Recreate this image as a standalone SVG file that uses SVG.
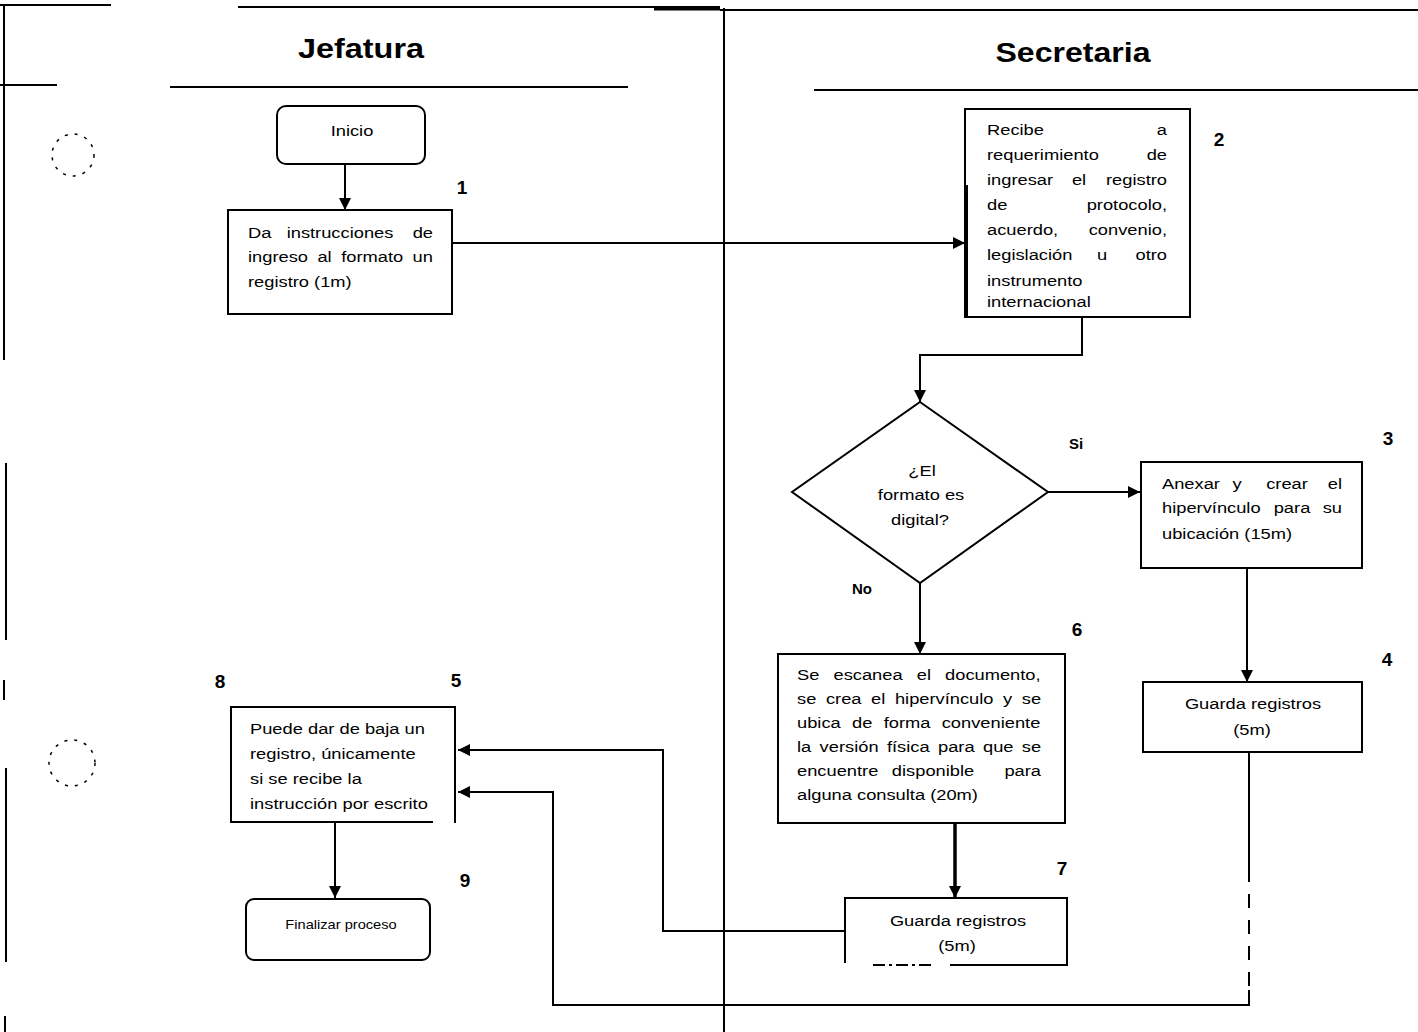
<svg xmlns="http://www.w3.org/2000/svg" width="1418" height="1032" viewBox="0 0 1418 1032">
  <defs>
    <marker id="arr" viewBox="0 0 10 10" refX="10" refY="5" markerWidth="12" markerHeight="12" markerUnits="userSpaceOnUse" orient="auto">
      <path d="M0,0 L10,5 L0,10 z" fill="#000"/>
    </marker>
    <style>
      text { font-family: "Liberation Sans", Arial, sans-serif; fill: #000; }
      .lane { font-size: 27px; font-weight: bold; text-anchor: middle; }
      /* body text: 15px, drawn with a 1.22 horizontal stretch via transform */
      .t { font-size: 15px; }
      .tm { font-size: 15px; text-anchor: middle; }
      .te { font-size: 15px; text-anchor: end; }
      .small { font-size: 12px; text-anchor: middle; }
      .num { font-size: 19px; font-weight: bold; text-anchor: middle; }
      .lbl { font-size: 15px; font-weight: bold; text-anchor: middle; }
      .box { fill: #fff; stroke: #000; stroke-width: 2; }
      .edge { stroke: #000; stroke-width: 2; fill: none; }
      .rule { stroke: #000; stroke-width: 2; fill: none; }
      .conn { stroke: #000; stroke-width: 2; fill: none; }
      .mark { stroke: #000; stroke-width: 1.5; fill: none; stroke-dasharray: 3 7; }
    </style>
  </defs>

  <rect width="1418" height="1032" fill="#fff"/>

  <!-- lane frame -->
  <g id="lanes">
    <line class="rule" x1="0" y1="5" x2="111" y2="5"/>
    <line class="rule" x1="4" y1="5" x2="4" y2="360"/>
    <line class="rule" x1="0" y1="85" x2="57" y2="85"/>
    <line class="rule" x1="6" y1="463" x2="6" y2="640"/>
    <line class="rule" x1="6" y1="768" x2="6" y2="962"/>
    <line class="rule" x1="4" y1="680" x2="4" y2="700"/>
    <line class="rule" x1="5" y1="1016" x2="5" y2="1032"/>
    <line class="rule" x1="238" y1="7" x2="720" y2="7"/>
    <line x1="654" y1="9" x2="720" y2="9" stroke="#000" stroke-width="3"/>
    <line class="rule" x1="720" y1="10" x2="1418" y2="10"/>
    <line class="rule" x1="724" y1="8" x2="724" y2="1032"/>
    <line class="rule" x1="170" y1="87" x2="628" y2="87"/>
    <line class="rule" x1="814" y1="90" x2="1418" y2="90"/>
    <text class="lane" x="361" y="58" textLength="126" lengthAdjust="spacingAndGlyphs">Jefatura</text>
    <text class="lane" x="1073" y="62" textLength="155" lengthAdjust="spacingAndGlyphs">Secretaria</text>
    <circle class="mark" cx="73" cy="155" r="21"/>
    <circle class="mark" cx="72" cy="763" r="23"/>
  </g>

  <!-- connectors -->
  <g id="connectors">
    <line class="conn" x1="345" y1="164" x2="345" y2="210" marker-end="url(#arr)"/>
    <line class="conn" x1="452" y1="243" x2="965" y2="243" marker-end="url(#arr)"/>
    <polyline class="conn" points="1082,317 1082,355 920,355 920,402" marker-end="url(#arr)"/>
    <line class="conn" x1="1048" y1="492" x2="1140" y2="492" marker-end="url(#arr)"/>
    <line class="conn" x1="1247" y1="568" x2="1247" y2="682" marker-end="url(#arr)"/>
    <line class="conn" x1="920" y1="583" x2="920" y2="654" marker-end="url(#arr)"/>
    <line x1="955" y1="823" x2="955" y2="898" stroke="#000" stroke-width="3.5" marker-end="url(#arr)"/>
    <polyline class="conn" points="844,931 663,931 663,750 458,750" marker-end="url(#arr)"/>
    <line class="conn" x1="1249" y1="752" x2="1249" y2="868"/>
    <line class="conn" x1="1249" y1="868" x2="1249" y2="990" stroke-dasharray="14 12"/>
    <polyline class="conn" points="1249,990 1249,1005 553,1005 553,792 458,792" marker-end="url(#arr)"/>
    <line class="conn" x1="335" y1="822" x2="335" y2="898" marker-end="url(#arr)"/>
  </g>

  <!-- start -->
  <g id="n-inicio">
    <rect class="box" x="277" y="106" width="148" height="58" rx="9"/>
    <text class="tm" transform="translate(352 136) scale(1.22 1)">Inicio</text>
  </g>

  <!-- step 1 -->
  <g id="n1">
    <rect class="box" x="228" y="210" width="224" height="104"/>
    <text class="t" transform="translate(248 238) scale(1.22 1)">Da</text>
    <text class="tm" transform="translate(340 238) scale(1.22 1)">instrucciones</text>
    <text class="te" transform="translate(433 238) scale(1.22 1)">de</text>
    <text class="t" transform="translate(248 262) scale(1.22 1)" word-spacing="3.6">ingreso al formato un</text>
    <text class="t" transform="translate(248 287) scale(1.22 1)">registro (1m)</text>
    <text class="num" x="462" y="194">1</text>
  </g>

  <!-- step 2 -->
  <g id="n2">
    <rect class="box" x="965" y="109" width="225" height="208"/>
    <line x1="966" y1="185" x2="966" y2="317" stroke="#000" stroke-width="4"/>
    <text class="t" transform="translate(987 135) scale(1.22 1)">Recibe</text>
    <text class="te" transform="translate(1167 135) scale(1.22 1)">a</text>
    <text class="t" transform="translate(987 160) scale(1.22 1)">requerimiento</text>
    <text class="te" transform="translate(1167 160) scale(1.22 1)">de</text>
    <text class="t" transform="translate(987 185) scale(1.22 1)">ingresar</text>
    <text class="tm" transform="translate(1079 185) scale(1.22 1)">el</text>
    <text class="te" transform="translate(1167 185) scale(1.22 1)">registro</text>
    <text class="t" transform="translate(987 210) scale(1.22 1)">de</text>
    <text class="te" transform="translate(1167 210) scale(1.22 1)">protocolo,</text>
    <text class="t" transform="translate(987 235) scale(1.22 1)">acuerdo,</text>
    <text class="te" transform="translate(1167 235) scale(1.22 1)">convenio,</text>
    <text class="t" transform="translate(987 260) scale(1.22 1)">legislación</text>
    <text class="tm" transform="translate(1102 260) scale(1.22 1)">u</text>
    <text class="te" transform="translate(1167 260) scale(1.22 1)">otro</text>
    <text class="t" transform="translate(987 286) scale(1.22 1)">instrumento</text>
    <text class="t" transform="translate(987 307) scale(1.22 1)" font-size="14">internacional</text>
    <text class="num" x="1219" y="146">2</text>
  </g>

  <!-- decision -->
  <g id="n-decision">
    <polygon class="box" points="920,402 1048,492 920,583 792,492"/>
    <text class="tm" transform="translate(922 476) scale(1.22 1)">¿El</text>
    <text class="tm" transform="translate(921 500) scale(1.22 1)">formato es</text>
    <text class="tm" transform="translate(920 525) scale(1.22 1)">digital?</text>
    <text class="lbl" x="1076" y="449">Si</text>
    <text class="lbl" x="862" y="594" font-size="13">No</text>
  </g>

  <!-- step 3 -->
  <g id="n3">
    <rect class="box" x="1141" y="462" width="221" height="106"/>
    <text class="t" transform="translate(1162 489) scale(1.22 1)">Anexar</text>
    <text class="tm" transform="translate(1237 489) scale(1.22 1)">y</text>
    <text class="tm" transform="translate(1287 489) scale(1.22 1)">crear</text>
    <text class="te" transform="translate(1342 489) scale(1.22 1)">el</text>
    <text class="t" transform="translate(1162 513) scale(1.22 1)">hipervínculo</text>
    <text class="tm" transform="translate(1292 513) scale(1.22 1)">para</text>
    <text class="te" transform="translate(1342 513) scale(1.22 1)">su</text>
    <text class="t" transform="translate(1162 539) scale(1.22 1)">ubicación (15m)</text>
    <text class="num" x="1388" y="445">3</text>
  </g>

  <!-- step 4 -->
  <g id="n4">
    <rect class="box" x="1143" y="682" width="219" height="70"/>
    <text class="tm" transform="translate(1253 709) scale(1.22 1)">Guarda registros</text>
    <text class="tm" transform="translate(1252 735) scale(1.22 1)">(5m)</text>
    <text class="num" x="1387" y="666">4</text>
  </g>

  <!-- step 6 -->
  <g id="n6">
    <rect class="box" x="778" y="654" width="287" height="169"/>
    <text class="t" transform="translate(797 680) scale(1.22 1)" word-spacing="7.4">Se escanea el documento,</text>
    <text class="t" transform="translate(797 704) scale(1.22 1)" word-spacing="3.7">se crea el hipervínculo y se</text>
    <text class="t" transform="translate(797 728) scale(1.22 1)" word-spacing="5.1">ubica de forma conveniente</text>
    <text class="t" transform="translate(797 752) scale(1.22 1)" word-spacing="2.7">la versión física para que se</text>
    <text class="t" transform="translate(797 776) scale(1.22 1)">encuentre</text>
    <text class="tm" transform="translate(933 776) scale(1.22 1)">disponible</text>
    <text class="te" transform="translate(1041 776) scale(1.22 1)">para</text>
    <text class="t" transform="translate(797 800) scale(1.22 1)">alguna consulta (20m)</text>
    <text class="num" x="1077" y="636">6</text>
  </g>

  <!-- step 7 -->
  <g id="n7">
    <rect x="845" y="898" width="222" height="67" fill="#fff"/>
    <polyline class="edge" points="845,963 845,898 1067,898 1067,965 950,965"/>
    <line class="edge" x1="873" y1="965" x2="932" y2="965" stroke-dasharray="12 4 3 4"/>
    <text class="tm" transform="translate(958 926) scale(1.22 1)">Guarda registros</text>
    <text class="tm" transform="translate(957 951) scale(1.22 1)">(5m)</text>
    <text class="num" x="1062" y="875">7</text>
  </g>

  <!-- step 5 -->
  <g id="n5">
    <rect x="231" y="707" width="224" height="115" fill="#fff"/>
    <polyline class="edge" points="433,822 231,822 231,707 455,707 455,823"/>
    <text class="t" transform="translate(250 734) scale(1.22 1)">Puede dar de baja un</text>
    <text class="t" transform="translate(250 759) scale(1.22 1)">registro, únicamente</text>
    <text class="t" transform="translate(250 784) scale(1.22 1)">si se recibe la</text>
    <text class="t" transform="translate(250 809) scale(1.22 1)">instrucción por escrito</text>
    <text class="num" x="220" y="688">8</text>
    <text class="num" x="456" y="687">5</text>
  </g>

  <!-- end -->
  <g id="n9">
    <rect class="box" x="246" y="899" width="184" height="61" rx="8"/>
    <text class="small" transform="translate(341 929) scale(1.22 1)">Finalizar proceso</text>
    <text class="num" x="465" y="887">9</text>
  </g>
</svg>
